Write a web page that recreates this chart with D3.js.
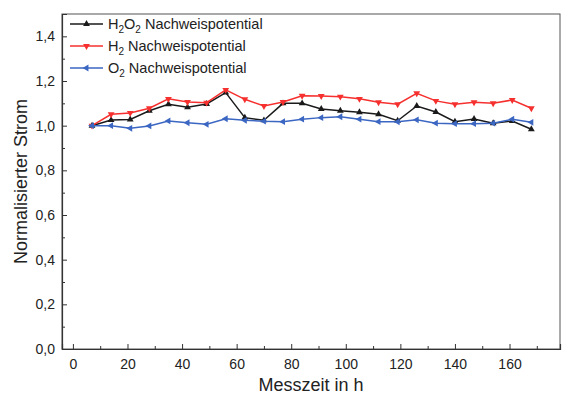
<!DOCTYPE html>
<html>
<head>
<meta charset="utf-8">
<script src="https://cdn.jsdelivr.net/npm/d3@7"></script>
<style>
  body { margin: 0; background: #fff; }
  text { font-family: "Liberation Sans", Arial, sans-serif; }
</style>
</head>
<body>
<svg id="chart"></svg>
<script>
// Messzeit in h
var hours = [7, 14, 21, 28, 35, 42, 49, 56, 63, 70, 77, 84, 91, 98, 105, 112, 119, 126, 133, 140, 147, 154, 161, 168];
// Normalisierter Strom
var h2o2 = [1.0, 1.025, 1.028, 1.067, 1.096, 1.082, 1.097, 1.148, 1.036, 1.024, 1.10, 1.10, 1.075, 1.067, 1.06, 1.051, 1.022, 1.088, 1.061, 1.018, 1.03, 1.011, 1.021, 0.984];
var h2 = [1.0, 1.051, 1.057, 1.078, 1.12, 1.106, 1.103, 1.16, 1.118, 1.088, 1.106, 1.134, 1.133, 1.13, 1.12, 1.105, 1.096, 1.145, 1.111, 1.096, 1.105, 1.10, 1.115, 1.078];
var o2 = [1.0, 1.0, 0.988, 0.999, 1.021, 1.013, 1.006, 1.031, 1.024, 1.02, 1.018, 1.029, 1.036, 1.04, 1.029, 1.018, 1.017, 1.026, 1.011, 1.009, 1.009, 1.011, 1.029, 1.015];
var xTicks = [0, 20, 40, 60, 80, 100, 120, 140, 160];
var xMinor = [10, 30, 50, 70, 90, 110, 130, 150, 170];
var yTicks = [0, 0.2, 0.4, 0.6, 0.8, 1.0, 1.2, 1.4];
var yMinor = [0.1, 0.3, 0.5, 0.7, 0.9, 1.1, 1.3];

var width = 562, height = 396;
var mLeft = 62, mRight = 560, mTop = 14, mBottom = 349;

var series = [
  {name: ["H", "2", "O", "2", " Nachweispotential"], values: h2o2, color: "#1a1a1a", rot: 0},
  {name: ["H", "2", " Nachweispotential"], values: h2, color: "#f5302e", rot: 180},
  {name: ["O", "2", " Nachweispotential"], values: o2, color: "#3b66c2", rot: -90}
];

var svg = d3.select("#chart").attr("width", width).attr("height", height);

var x = d3.scaleLinear().domain([-4, 178.5]).range([mLeft, mRight]);
var y = d3.scaleLinear().domain([0, 1.5]).range([mBottom, mTop]);
var fmt = function(d) { return d3.format(".1f")(d).replace(".", ","); };

// Rahmen
svg.append("rect")
  .attr("x", mLeft).attr("y", mTop)
  .attr("width", mRight - mLeft).attr("height", mBottom - mTop)
  .attr("fill", "none").attr("stroke", "#555").attr("stroke-width", 1);

// Achsen (Ticks nach innen)
function styleAxis(g) {
  g.select(".domain").attr("stroke", "#333").attr("stroke-width", 1.2);
  g.selectAll(".tick line").attr("stroke", "#333");
  g.selectAll("text").attr("font-size", 14).attr("fill", "#222")
    .style("font-family", "'Liberation Sans', Arial, sans-serif");
}

svg.append("g").attr("transform", "translate(0," + mBottom + ")")
  .call(d3.axisBottom(x).tickValues(xTicks).tickSize(-5).tickPadding(10))
  .call(styleAxis);
svg.append("g").attr("transform", "translate(0," + mBottom + ")")
  .call(d3.axisBottom(x).tickValues(xMinor).tickSize(-3).tickFormat(""))
  .call(styleAxis)
  .select(".domain").remove();

svg.append("g").attr("transform", "translate(" + mLeft + ",0)")
  .call(d3.axisLeft(y).tickValues(yTicks).tickSize(-5).tickPadding(7).tickFormat(fmt))
  .call(styleAxis);
svg.append("g").attr("transform", "translate(" + mLeft + ",0)")
  .call(d3.axisLeft(y).tickValues(yMinor).tickSize(-3).tickFormat(""))
  .call(styleAxis)
  .select(".domain").remove();

// Achsentitel
svg.append("text")
  .attr("x", (mLeft + mRight) / 2).attr("y", 391)
  .attr("text-anchor", "middle").attr("font-size", 18).attr("fill", "#222")
  .text("Messzeit in h");
svg.append("text")
  .attr("transform", "translate(27," + (mTop + mBottom) / 2 + ") rotate(-90)")
  .attr("text-anchor", "middle").attr("font-size", 18).attr("fill", "#222")
  .text("Normalisierter Strom");

// Linien + Marker
var line = d3.line()
  .x(function(d) { return x(d[0]); })
  .y(function(d) { return y(d[1]); });
var sym = d3.symbol().type(d3.symbolTriangle).size(20);

series.forEach(function(s) {
  var pts = hours.map(function(h, i) { return [h, s.values[i]]; });
  var g = svg.append("g");
  g.append("path").datum(pts)
    .attr("d", line).attr("fill", "none")
    .attr("stroke", s.color).attr("stroke-width", 1.5);
  g.selectAll("path.m").data(pts).enter().append("path")
    .attr("class", "m")
    .attr("d", sym)
    .attr("fill", s.color)
    .attr("transform", function(d) {
      return "translate(" + x(d[0]) + "," + y(d[1]) + ") rotate(" + s.rot + ")";
    });
});

// Legende
var legRows = [24, 46, 68];
series.forEach(function(s, i) {
  var g = svg.append("g").attr("transform", "translate(70," + legRows[i] + ")");
  g.append("line").attr("x1", 0).attr("x2", 33).attr("y1", 0).attr("y2", 0)
    .attr("stroke", s.color).attr("stroke-width", 1.5);
  g.append("path").attr("d", sym)
    .attr("fill", s.color)
    .attr("transform", "translate(16.5,0) rotate(" + s.rot + ")");
  var t = g.append("text").attr("x", 38).attr("y", 5)
    .attr("font-size", 14.5).attr("fill", "#222");
  s.name.forEach(function(part, j) {
    var sub = part === "2";
    t.append("tspan")
      .attr("font-size", sub ? 10 : 14.5)
      .attr("dy", sub ? 4 : (j > 0 ? -4 : 0))
      .text(part);
  });
});
</script>
</body>
</html>
